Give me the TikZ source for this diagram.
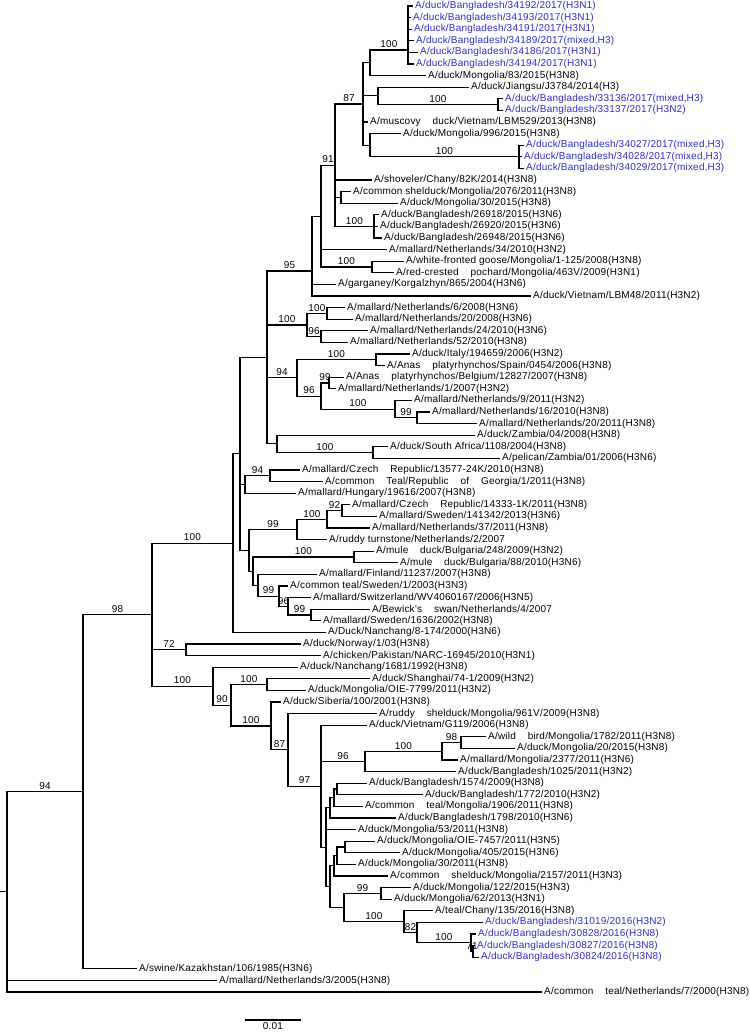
\documentclass[tikz,border=0pt]{standalone}
\usepackage{fontspec}
\setmainfont{Liberation Sans}[LetterSpace=2]
\usetikzlibrary{calc}
\definecolor{bdblue}{RGB}{45,45,200}
% leaf: name, row, end of branch, strain
\newcommand\leaf[4]{\coordinate (#1) at (#3,{6+(#2-1)*11.6});
  \node[strain] (t#1) at (#1) {#4};}
\newcommand\bleaf[4]{\coordinate (#1) at (#3,{6+(#2-1)*11.6});
  \node[strain,bdblue] (t#1) at (#1) {#4};}
% clade: name, x, first child, last child
\newcommand\clade[4]{\path let \p1=($(#3)!.5!(#4)$) in coordinate (#1) at (#2pt,\y1);}
\newcommand\cladeat[3]{\coordinate (#1) at (#2,#3);}
\newcommand\kids[2]{\foreach \ch in {#2} \draw[edge] (#1) |- (\ch);}
\newcommand\boot[3]{\node[boot] (b#2) at ($(#1 |- #2)!.5!(#2)$) {#3};}
\begin{document}
\begin{tikzpicture}[x=1pt,y=-1pt,line cap=rect,
  strain/.style={anchor=west,inner sep=0pt,xshift=3pt,font=\fontsize{10}{11}\selectfont},
  boot/.style={anchor=south,inner sep=0pt,yshift=2pt,font=\fontsize{10}{11}\selectfont},
  edge/.style={line width=1.1pt}]
\useasboundingbox (0,0) rectangle (750,1034);
\def\s{~~~~}
\bleaf{l1}{1}{412}{A/duck/Bangladesh/34192/2017(H3N1)}
\bleaf{l2}{2}{410}{A/duck/Bangladesh/34193/2017(H3N1)}
\bleaf{l3}{3}{411}{A/duck/Bangladesh/34191/2017(H3N1)}
\bleaf{l4}{4}{413}{A/duck/Bangladesh/34189/2017(mixed,H3)}
\bleaf{l5}{5}{417}{A/duck/Bangladesh/34186/2017(H3N1)}
\bleaf{l6}{6}{413}{A/duck/Bangladesh/34194/2017(H3N1)}
\leaf{l7}{7}{425}{A/duck/Mongolia/83/2015(H3N8)}
\leaf{l8}{8}{468}{A/duck/Jiangsu/J3784/2014(H3)}
\bleaf{l9}{9}{502}{A/duck/Bangladesh/33136/2017(mixed,H3)}
\bleaf{l10}{10}{502}{A/duck/Bangladesh/33137/2017(H3N2)}
\leaf{l11}{11}{367}{A/muscovy\s duck/Vietnam/LBM529/2013(H3N8)}
\leaf{l12}{12}{400}{A/duck/Mongolia/996/2015(H3N8)}
\bleaf{l13}{13}{523}{A/duck/Bangladesh/34027/2017(mixed,H3)}
\bleaf{l14}{14}{521}{A/duck/Bangladesh/34028/2017(mixed,H3)}
\bleaf{l15}{15}{523}{A/duck/Bangladesh/34029/2017(mixed,H3)}
\leaf{l16}{16}{371}{A/shoveler/Chany/82K/2014(H3N8)}
\leaf{l17}{17}{350}{A/common shelduck/Mongolia/2076/2011(H3N8)}
\leaf{l18}{18}{397}{A/duck/Mongolia/30/2015(H3N8)}
\leaf{l19}{19}{378}{A/duck/Bangladesh/26918/2015(H3N6)}
\leaf{l20}{20}{377}{A/duck/Bangladesh/26920/2015(H3N6)}
\leaf{l21}{21}{381}{A/duck/Bangladesh/26948/2015(H3N6)}
\leaf{l22}{22}{386}{A/mallard/Netherlands/34/2010(H3N2)}
\leaf{l23}{23}{403}{A/white-fronted goose/Mongolia/1-125/2008(H3N8)}
\leaf{l24}{24}{393}{A/red-crested\s pochard/Mongolia/463V/2009(H3N1)}
\leaf{l25}{25}{335}{A/garganey/Korgalzhyn/865/2004(H3N6)}
\leaf{l26}{26}{530}{A/duck/Vietnam/LBM48/2011(H3N2)}
\leaf{l27}{27}{344}{A/mallard/Netherlands/6/2008(H3N6)}
\leaf{l28}{28}{352}{A/mallard/Netherlands/20/2008(H3N6)}
\leaf{l29}{29}{367}{A/mallard/Netherlands/24/2010(H3N6)}
\leaf{l30}{30}{347}{A/mallard/Netherlands/52/2010(H3N8)}
\leaf{l31}{31}{409}{A/duck/Italy/194659/2006(H3N2)}
\leaf{l32}{32}{384}{A/Anas\s platyrhynchos/Spain/0454/2006(H3N8)}
\leaf{l33}{33}{343}{A/Anas\s platyrhynchos/Belgium/12827/2007(H3N8)}
\leaf{l34}{34}{335}{A/mallard/Netherlands/1/2007(H3N2)}
\leaf{l35}{35}{411}{A/mallard/Netherlands/9/2011(H3N2)}
\leaf{l36}{36}{429}{A/mallard/Netherlands/16/2010(H3N8)}
\leaf{l37}{37}{476}{A/mallard/Netherlands/20/2011(H3N8)}
\leaf{l38}{38}{474}{A/duck/Zambia/04/2008(H3N8)}
\leaf{l39}{39}{387}{A/duck/South Africa/1108/2004(H3N8)}
\leaf{l40}{40}{499}{A/pelican/Zambia/01/2006(H3N6)}
\leaf{l41}{41}{299}{A/mallard/Czech\s Republic/13577-24K/2010(H3N8)}
\leaf{l42}{42}{322}{A/common\s Teal/Republic\s of\s Georgia/1/2011(H3N8)}
\leaf{l43}{43}{295}{A/mallard/Hungary/19616/2007(H3N8)}
\leaf{l44}{44}{349}{A/mallard/Czech\s Republic/14333-1K/2011(H3N8)}
\leaf{l45}{45}{376}{A/mallard/Sweden/141342/2013(H3N6)}
\leaf{l46}{46}{369}{A/mallard/Netherlands/37/2011(H3N8)}
\leaf{l47}{47}{326}{A/ruddy turnstone/Netherlands/2/2007}
\leaf{l48}{48}{373}{A/mule\s duck/Bulgaria/248/2009(H3N2)}
\leaf{l49}{49}{397}{A/mule\s duck/Bulgaria/88/2010(H3N6)}
\leaf{l50}{50}{316}{A/mallard/Finland/11237/2007(H3N8)}
\leaf{l51}{51}{287}{A/common teal/Sweden/1/2003(H3N3)}
\leaf{l52}{52}{310}{A/mallard/Switzerland/WV4060167/2006(H3N5)}
\leaf{l53}{53}{369}{A/Bewick's\s swan/Netherlands/4/2007}
\leaf{l54}{54}{320}{A/mallard/Sweden/1636/2002(H3N8)}
\leaf{l55}{55}{325}{A/Duck/Nanchang/8-174/2000(H3N6)}
\leaf{l56}{56}{300}{A/duck/Norway/1/03(H3N8)}
\leaf{l57}{57}{320}{A/chicken/Pakistan/NARC-16945/2010(H3N1)}
\leaf{l58}{58}{297}{A/duck/Nanchang/1681/1992(H3N8)}
\leaf{l59}{59}{369}{A/duck/Shanghai/74-1/2009(H3N2)}
\leaf{l60}{60}{305}{A/duck/Mongolia/OIE-7799/2011(H3N2)}
\leaf{l61}{61}{280}{A/duck/Siberia/100/2001(H3N8)}
\leaf{l62}{62}{376}{A/ruddy\s shelduck/Mongolia/961V/2009(H3N8)}
\leaf{l63}{63}{366}{A/duck/Vietnam/G119/2006(H3N8)}
\leaf{l64}{64}{485}{A/wild\s bird/Mongolia/1782/2011(H3N8)}
\leaf{l65}{65}{514}{A/duck/Mongolia/20/2015(H3N8)}
\leaf{l66}{66}{457}{A/mallard/Mongolia/2377/2011(H3N6)}
\leaf{l67}{67}{455}{A/duck/Bangladesh/1025/2011(H3N2)}
\leaf{l68}{68}{366}{A/duck/Bangladesh/1574/2009(H3N8)}
\leaf{l69}{69}{422}{A/duck/Bangladesh/1772/2010(H3N2)}
\leaf{l70}{70}{362}{A/common\s teal/Mongolia/1906/2011(H3N8)}
\leaf{l71}{71}{395}{A/duck/Bangladesh/1798/2010(H3N6)}
\leaf{l72}{72}{355}{A/duck/Mongolia/53/2011(H3N8)}
\leaf{l73}{73}{374}{A/duck/Mongolia/OIE-7457/2011(H3N5)}
\leaf{l74}{74}{399}{A/duck/Mongolia/405/2015(H3N6)}
\leaf{l75}{75}{355}{A/duck/Mongolia/30/2011(H3N8)}
\leaf{l76}{76}{387}{A/common\s shelduck/Mongolia/2157/2011(H3N3)}
\leaf{l77}{77}{410}{A/duck/Mongolia/122/2015(H3N3)}
\leaf{l78}{78}{391}{A/duck/Mongolia/62/2013(H3N1)}
\leaf{l79}{79}{432}{A/teal/Chany/135/2016(H3N8)}
\bleaf{l80}{80}{482}{A/duck/Bangladesh/31019/2016(H3N2)}
\bleaf{l81}{81}{475}{A/duck/Bangladesh/30828/2016(H3N8)}
\bleaf{l82}{82}{474}{A/duck/Bangladesh/30827/2016(H3N8)}
\bleaf{l83}{83}{478}{A/duck/Bangladesh/30824/2016(H3N8)}
\leaf{l84}{84}{136}{A/swine/Kazakhstan/106/1985(H3N6)}
\leaf{l85}{85}{216}{A/mallard/Netherlands/3/2005(H3N8)}
\leaf{l86}{86}{541}{A/common\s teal/Netherlands/7/2000(H3N8)}
% clades, bottom up
\cladeat{a1}{408}{50}  \clade{a2}{370}{a1}{l7}
\clade{b2}{498}{l9}{l10} \clade{b1}{378}{l8}{b2}
\clade{c2}{519}{l13}{l15} \clade{c1}{370}{l12}{c2}
\clade{n87}{363}{a2}{c1}
\clade{d2}{341}{l17}{l18} \clade{e1}{374}{l19}{l21}
\clade{n91}{335}{n87}{e1}
\clade{g2}{372}{l23}{l24} \clade{F}{321}{n91}{g2}
\cladeat{n95}{312}{271}
\clade{p1}{327}{l27}{l28} \clade{p2}{321}{l29}{l30} \clade{G}{307}{p1}{p2}
\clade{h1}{376}{l31}{l32} \clade{h3}{329}{l33}{l34}
\clade{k}{417}{l36}{l37} \clade{j}{395}{l35}{k}
\clade{h2}{321}{h3}{j} \clade{H}{297}{h1}{h2}
\clade{z2}{373}{l39}{l40} \clade{Z1}{277}{l38}{z2}
\clade{I}{267}{n95}{Z1}
\clade{P1}{270}{l41}{l42} \clade{P}{245}{P1}{l43}
\clade{s1}{342}{l44}{l45} \clade{S}{327}{s1}{l46} \clade{R}{297}{S}{l47}
\clade{m1}{354}{l48}{l49}
\clade{X}{311}{l53}{l54} \clade{W}{288}{l52}{X} \clade{V}{279}{l51}{W}
\clade{U}{258}{l50}{V} \clade{T}{253}{m1}{U} \clade{Y}{249}{R}{T}
\clade{Q}{240}{I}{Y} \clade{big}{233}{Q}{l55}
\clade{n72}{186}{l56}{l57} \clade{pS}{267}{l59}{l60}
\clade{n98b}{461}{l64}{l65} \clade{n100d}{442}{n98b}{l66} \clade{n96}{365}{n100d}{l67}
\clade{q1}{337}{l68}{l69} \clade{q2}{334}{q1}{l70} \clade{q3}{330}{q2}{l71}
\clade{r1}{345}{l73}{l74} \clade{r2}{337}{r1}{l75} \clade{r3}{334}{r2}{l76}
\clade{r4}{381}{l77}{l78}
\clade{u4}{473}{l82}{l83} \clade{u3}{471}{l81}{u4} \clade{u2}{417}{l80}{u3}
\clade{u1}{404}{l79}{u2} \clade{r5}{344}{r4}{u1}
\clade{w}{330}{r3}{r5} \clade{v}{326}{q3}{w}
\clade{n97}{321}{l63}{v} \clade{n87b}{288}{l62}{n97}
\clade{n100c}{271}{l61}{n87b} \clade{n90}{231}{pS}{n100c}
\clade{low}{213}{l58}{n90} \clade{n98}{152}{big}{low}
\clade{n94}{83}{n98}{l84} \clade{root}{7}{n94}{l86}
% branches
\kids{a1}{l1,l2,l3,l4,l5,l6} \kids{a2}{a1,l7} \kids{b2}{l9,l10} \kids{b1}{l8,b2}
\kids{c2}{l13,l14,l15} \kids{c1}{l12,c2} \kids{n87}{a2,b1,l11,c1}
\kids{d2}{l17,l18} \kids{e1}{l19,l20,l21} \kids{n91}{n87,l16,d2,e1}
\kids{g2}{l23,l24} \kids{F}{n91,l22,g2} \kids{n95}{F,l25,l26}
\kids{p1}{l27,l28} \kids{p2}{l29,l30} \kids{G}{p1,p2}
\kids{h1}{l31,l32} \kids{h3}{l33,l34} \kids{k}{l36,l37} \kids{j}{l35,k}
\kids{h2}{h3,j} \kids{H}{h1,h2} \kids{z2}{l39,l40} \kids{Z1}{l38,z2}
\kids{I}{n95,G,H,Z1}
\kids{P1}{l41,l42} \kids{P}{P1,l43} \kids{s1}{l44,l45} \kids{S}{s1,l46} \kids{R}{S,l47}
\kids{m1}{l48,l49} \kids{X}{l53,l54} \kids{W}{l52,X} \kids{V}{l51,W} \kids{U}{l50,V}
\kids{T}{m1,U} \kids{Y}{R,T} \kids{Q}{I,P,Y} \kids{big}{Q,l55}
\kids{n72}{l56,l57} \kids{pS}{l59,l60}
\kids{n98b}{l64,l65} \kids{n100d}{n98b,l66} \kids{n96}{n100d,l67}
\kids{q1}{l68,l69} \kids{q2}{q1,l70} \kids{q3}{q2,l71}
\kids{r1}{l73,l74} \kids{r2}{r1,l75} \kids{r3}{r2,l76} \kids{r4}{l77,l78}
\kids{u4}{l82,l83} \kids{u3}{l81,u4} \kids{u2}{l80,u3} \kids{u1}{l79,u2} \kids{r5}{r4,u1}
\kids{w}{r3,r5} \kids{v}{q3,l72,w} \kids{n97}{l63,n96,v} \kids{n87b}{l62,n97}
\kids{n100c}{l61,n87b} \kids{n90}{pS,n100c} \kids{low}{l58,n90}
\kids{n98}{big,n72,low} \kids{n94}{n98,l84} \kids{root}{n94,l85,l86}
\draw[edge] (root) -- ([xshift=-7pt]root);
% bootstrap values
\boot{a2}{a1}{100} \boot{b1}{b2}{100} \boot{c1}{c2}{100} \boot{n91}{n87}{87}
\boot{F}{n91}{91} \boot{n91}{e1}{100} \boot{F}{g2}{100} \boot{I}{n95}{95}
\boot{I}{G}{100} \boot{G}{p1}{100} \boot{G}{p2}{96} \boot{I}{H}{94}
\boot{H}{h1}{100} \boot{H}{h2}{96} \boot{h2}{h3}{99} \boot{h2}{j}{100} \boot{j}{k}{99}
\boot{Z1}{z2}{100} \boot{P}{P1}{94} \boot{S}{s1}{92} \boot{R}{S}{100} \boot{Y}{R}{99}
\boot{T}{m1}{100} \boot{U}{V}{99} \boot{V}{W}{96} \boot{W}{X}{99}
\boot{n98}{big}{100} \boot{n94}{n98}{98} \boot{n98}{n72}{72} \boot{n98}{low}{100}
\boot{low}{n90}{90} \boot{n90}{pS}{100} \boot{n90}{n100c}{100} \boot{n100c}{n87b}{87}
\boot{n87b}{n97}{97} \boot{n97}{n96}{96} \boot{n96}{n100d}{100} \boot{n100d}{n98b}{98}
\boot{r5}{r4}{99} \boot{r5}{u1}{100} \boot{u1}{u2}{82} \boot{u2}{u3}{100} \boot{u3}{u4}{71}
\boot{root}{n94}{94}
% scale bar
\coordinate (sb0) at (246,1020); \coordinate (sb1) at (300,1020);
\draw[edge] (sb0) -- (sb1);
\node[boot,anchor=north,yshift=-4pt] (sbl) at ($(sb0)!.5!(sb1)$) {0.01};
\end{tikzpicture}
\end{document}
